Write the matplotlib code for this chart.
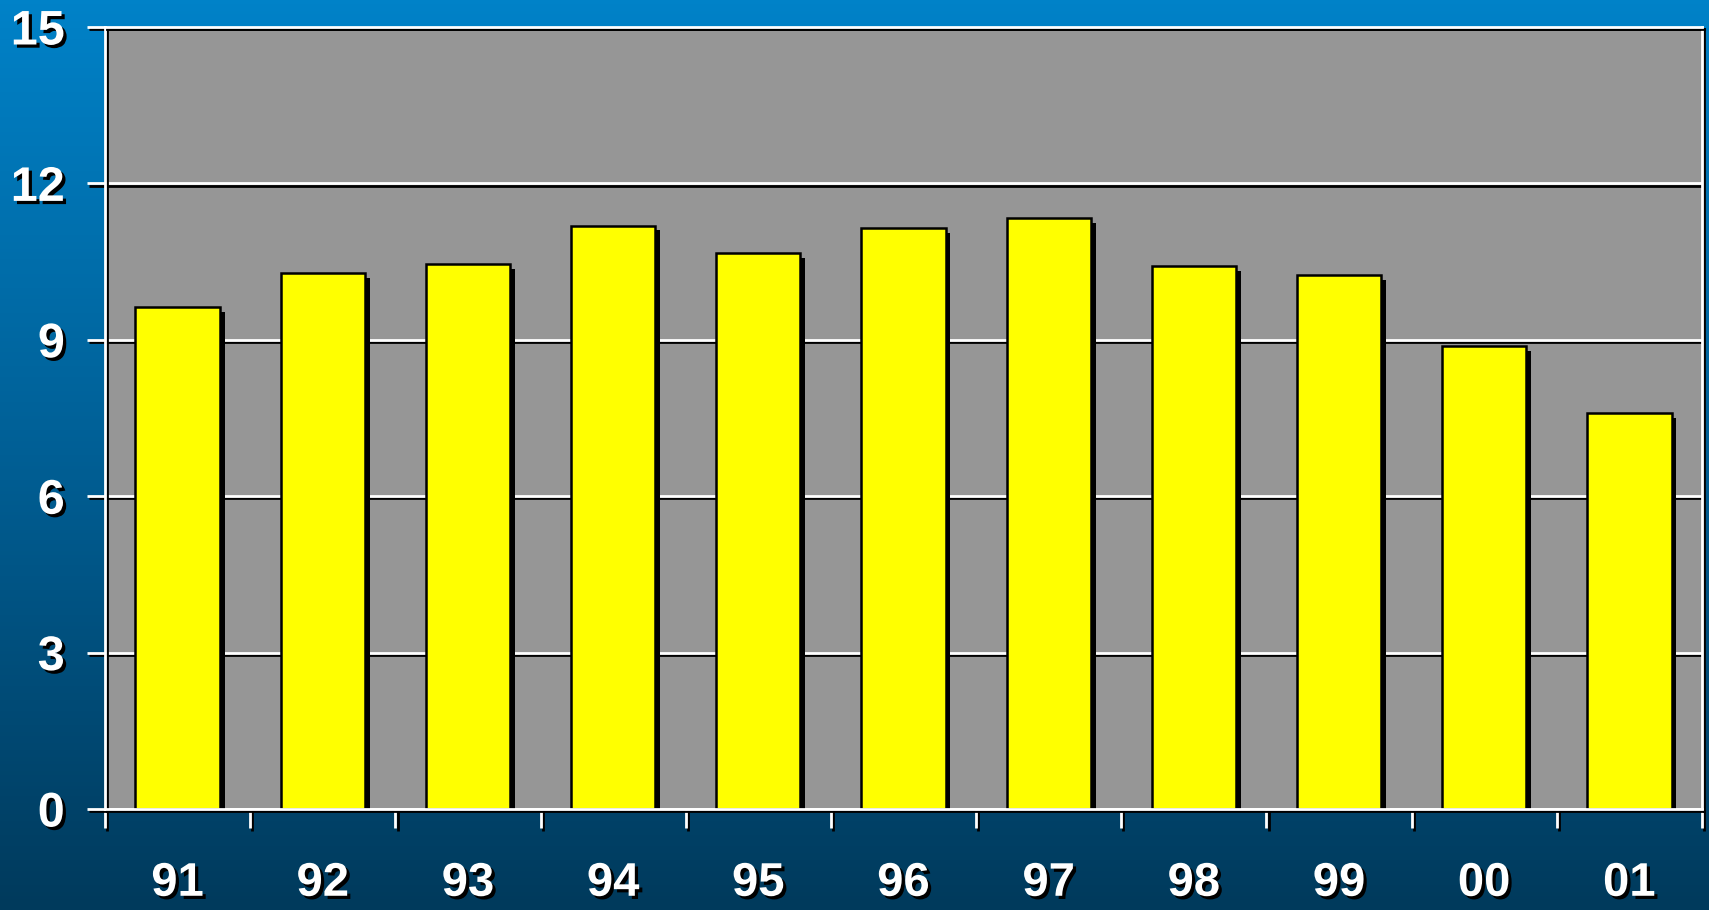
import numpy as np
import matplotlib.pyplot as plt
import matplotlib.patheffects as pe
from matplotlib.colors import LinearSegmentedColormap

# Data
years = ["91", "92", "93", "94", "95", "96", "97", "98", "99", "00", "01"]
values = [9.63, 10.28, 10.45, 11.19, 10.67, 11.15, 11.34, 10.41, 10.24, 8.88, 7.60]
yticks = [0, 3, 6, 9, 12, 15]

plt.rcParams['font.family'] = ['Liberation Sans', 'DejaVu Sans']
plt.rcParams['font.weight'] = 'bold'

fig = plt.figure(figsize=(17.09, 9.10), dpi=100)

# Gradient background (bright blue at top, dark navy at bottom)
bg = fig.add_axes([0, 0, 1, 1], zorder=-10)
cmap = LinearSegmentedColormap.from_list("bg", ["#0082c8", "#005f95", "#003a5c"])
grad = np.linspace(0, 1, 256).reshape(-1, 1)
bg.imshow(grad, aspect='auto', cmap=cmap, extent=[0, 1, 0, 1])
bg.axis('off')

ax = fig.add_axes([105 / 1709, 1 - 809 / 910, (1702 - 105) / 1709, (809 - 27) / 910])
ax.set_facecolor("#969696")

x = np.arange(len(years))
bar_shadow = [pe.SimplePatchShadow(offset=(3.5, -3.5), shadow_rgbFace='black', alpha=1.0), pe.Normal()]
bars = ax.bar(x, values, width=0.58, color="#ffff00", edgecolor="black", linewidth=1.8, zorder=3)
for b in bars:
    b.set_path_effects(bar_shadow)

ax.set_xlim(-0.5, len(years) - 0.5)
ax.set_ylim(0, 15)

# Grid lines: white with a black shadow just below
line_shadow = [pe.SimpleLineShadow(offset=(0, -1.6), shadow_color='black', alpha=1.0), pe.Normal()]
ax.set_yticks(yticks)
ax.yaxis.grid(True, color='white', linewidth=2.0, zorder=1)
for gl in ax.get_ygridlines():
    gl.set_path_effects(line_shadow)
ax.set_axisbelow(True)

for side in ['left', 'right', 'top', 'bottom']:
    ax.spines[side].set_color('white')
    ax.spines[side].set_linewidth(2.0)
    ax.spines[side].set_zorder(4)
    ax.spines[side].set_path_effects(
        [pe.SimpleLineShadow(offset=(1.6, -1.6), shadow_color='black', alpha=1.0), pe.Normal()])

# X ticks: labels at centers, tick marks at category boundaries
ax.set_xticks(x)
ax.set_xticklabels(years)
ax.set_xticks(np.arange(-0.5, len(years)), minor=True)
ax.tick_params(axis='x', which='major', length=0, pad=38, labelsize=34, labelcolor='white')
ax.tick_params(axis='x', which='minor', length=14, width=2.0, color='white', direction='out')
ax.tick_params(axis='y', which='major', length=13, width=2.0, color='white', direction='out',
               pad=16, labelsize=35, labelcolor='white')

text_shadow = [pe.withSimplePatchShadow(offset=(2.3, -2.3), shadow_rgbFace='black', alpha=1.0)]
for lab in ax.get_xticklabels() + ax.get_yticklabels():
    lab.set_fontweight('bold')
    lab.set_path_effects(text_shadow)
for t in ax.xaxis.get_minorticklines() + ax.yaxis.get_majorticklines():
    t.set_path_effects([pe.SimpleLineShadow(offset=(1.6, -1.6), shadow_color='black', alpha=1.0), pe.Normal()])

fig.savefig("out.png", dpi=100)
